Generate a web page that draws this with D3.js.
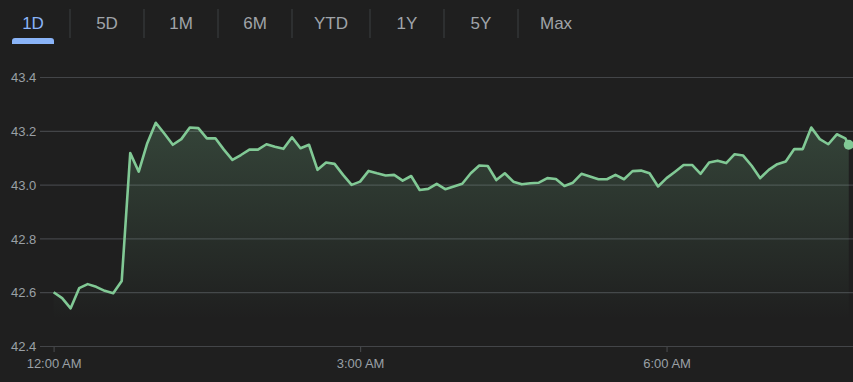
<!DOCTYPE html>
<html>
<head>
<meta charset="utf-8">
<script src="https://cdn.jsdelivr.net/npm/d3@7/dist/d3.min.js"></script>
<style>
  html, body { margin: 0; padding: 0; background: #1f1f1f; }
  svg { display: block; font-family: "Liberation Sans", Arial, sans-serif; }
</style>
</head>
<body>
<svg id="chart" width="853" height="382"></svg>
<script>
// ---- data ----
const tabs = ["1D", "5D", "1M", "6M", "YTD", "1Y", "5Y", "Max"];
const activeTab = "1D";

// minutes after midnight (5-minute bars, last one is the live quote)
const minutes = [
  0,5,10,15,20,25,30,35,40,45,50,55,60,65,70,75,80,85,90,95,
  100,105,110,115,120,125,130,135,140,145,150,155,160,165,170,175,180,185,190,195,
  200,205,210,215,220,225,230,235,240,245,250,255,260,265,270,275,280,285,290,295,
  300,305,310,315,320,325,330,335,340,345,350,355,360,365,370,375,380,385,390,395,
  400,405,410,415,420,425,430,435,440,445,450,455,460,465,467
];
const prices = [
  42.600,42.578,42.540,42.615,42.630,42.620,42.605,42.596,42.642,43.117,
  43.048,43.154,43.230,43.190,43.148,43.169,43.212,43.210,43.172,43.172,
  43.130,43.092,43.110,43.130,43.130,43.150,43.141,43.133,43.176,43.135,
  43.148,43.055,43.082,43.077,43.036,42.999,43.011,43.051,43.042,43.034,
  43.036,43.015,43.032,42.980,42.984,43.003,42.983,42.993,43.003,43.042,
  43.071,43.069,43.017,43.042,43.011,43.001,43.005,43.007,43.024,43.021,
  42.995,43.007,43.040,43.030,43.020,43.020,43.036,43.020,43.050,43.052,
  43.042,42.993,43.024,43.048,43.073,43.073,43.040,43.082,43.089,43.080,
  43.113,43.108,43.070,43.024,43.055,43.076,43.086,43.132,43.132,43.212,
  43.169,43.150,43.187,43.172,43.148
];

const yTicks = [42.4, 42.6, 42.8, 43.0, 43.2, 43.4];
const xTicks = [0, 180, 360];
const xTickLabels = ["12:00 AM", "3:00 AM", "6:00 AM"];

// ---- style ----
const C = {
  bg: "#1f1f1f",
  grid: "#434548",
  text: "#9aa0a6",
  tab: "#a0a4a9",
  active: "#8ab4f8",
  line: "#81c995"
};

const svg = d3.select("#chart");
svg.append("rect").attr("width", 853).attr("height", 382).attr("fill", C.bg);

// ---- tabs ----
const tabG = svg.append("g");
let cursor = -4;
const tabInfo = [];
tabs.forEach((t, i) => {
  const txt = tabG.append("text")
    .attr("y", 29)
    .attr("text-anchor", "middle")
    .attr("font-size", 17)
    .attr("fill", t === activeTab ? C.active : C.tab)
    .text(t);
  const w = txt.node().getComputedTextLength();
  const tw = Math.max(74, w + 44);
  const cx = cursor + tw / 2;
  txt.attr("x", cx);
  tabInfo.push({ t, cx, w, right: cursor + tw });
  cursor += tw;
});
tabInfo.slice(0, -1).forEach(d => {
  tabG.append("line")
    .attr("x1", d.right).attr("x2", d.right)
    .attr("y1", 9).attr("y2", 38)
    .attr("stroke", "#3c4043").attr("stroke-width", 1);
});
const act = tabInfo.find(d => d.t === activeTab);
tabG.append("path")
  .attr("d", () => {
    const x0 = act.cx - 21, x1 = act.cx + 21, y0 = 38, y1 = 44, r = 3;
    return `M${x0},${y1} L${x0},${y0 + r} Q${x0},${y0} ${x0 + r},${y0} L${x1 - r},${y0} Q${x1},${y0} ${x1},${y0 + r} L${x1},${y1} Z`;
  })
  .attr("fill", C.active);

// ---- scales ----
const x = d3.scaleLinear().domain([-8, 469.5]).range([40, 853]);
const y = d3.scaleLinear().domain([42.4, 43.4]).range([346, 77]);

const data = minutes.map((m, i) => ({ m, v: prices[i] }));

// grid + y labels
const yAxis = d3.axisLeft(y)
  .tickValues(yTicks)
  .tickFormat(d3.format(".1f"))
  .tickSize(-(853 - 40))
  .tickPadding(3);
const yg = svg.append("g").attr("transform", "translate(40,0)").call(yAxis);
yg.select(".domain").remove();
yg.selectAll(".tick line").attr("stroke", C.grid).attr("stroke-width", 1.2);
yg.selectAll(".tick text")
  .attr("fill", C.text)
  .attr("font-size", 13)
  .attr("font-family", "'Liberation Sans', Arial, sans-serif")
  .attr("text-anchor", "start")
  .attr("x", -29)
  .attr("dy", "0.36em");

// x axis
const xAxis = d3.axisBottom(x)
  .tickValues(xTicks)
  .tickFormat((d, i) => xTickLabels[i])
  .tickSize(6)
  .tickPadding(7);
const xg = svg.append("g").attr("transform", `translate(0,${y(42.4)})`).call(xAxis);
xg.select(".domain").remove();
xg.selectAll(".tick line").attr("stroke", C.grid).attr("stroke-width", 1.2);
xg.selectAll(".tick text")
  .attr("fill", C.text)
  .attr("font-size", 13)
  .attr("font-family", "'Liberation Sans', Arial, sans-serif");

// gradient
const defs = svg.append("defs");
const grad = defs.append("linearGradient")
  .attr("id", "fillGrad")
  .attr("gradientUnits", "userSpaceOnUse")
  .attr("x1", 0).attr("x2", 0)
  .attr("y1", y(d3.max(prices))).attr("y2", y(42.5));
grad.append("stop").attr("offset", 0).attr("stop-color", C.line).attr("stop-opacity", 0.22);
grad.append("stop").attr("offset", 1).attr("stop-color", C.line).attr("stop-opacity", 0);

const area = d3.area()
  .x(d => x(d.m))
  .y0(y(42.4))
  .y1(d => y(d.v));
svg.append("path").datum(data).attr("d", area).attr("fill", "url(#fillGrad)");

const line = d3.line().x(d => x(d.m)).y(d => y(d.v));
svg.append("path").datum(data)
  .attr("d", line)
  .attr("fill", "none")
  .attr("stroke", C.line)
  .attr("stroke-width", 2.6)
  .attr("stroke-linejoin", "round");

const last = data[data.length - 1];
svg.append("circle")
  .attr("cx", x(last.m)).attr("cy", y(last.v))
  .attr("r", 5)
  .attr("fill", C.line);
</script>
</body>
</html>
